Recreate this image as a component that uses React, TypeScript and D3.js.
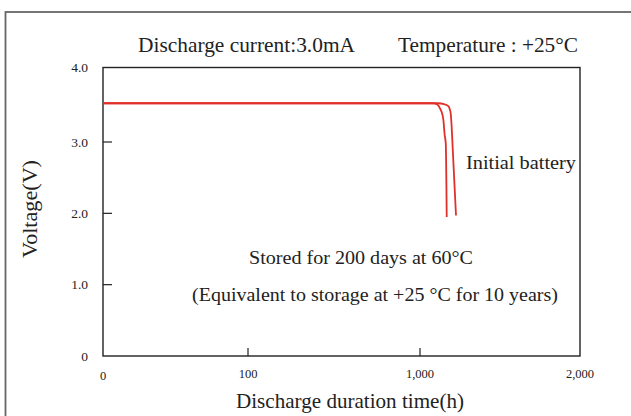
import React from "react";
import * as d3 from "d3";

const xTickValues = [0, 100, 1000, 2000];
const xTickLabels = ["0", "100", "1,000", "2,000"];
const yTickValues = [0, 1, 2, 3, 4];
const yTickLabels = ["0", "1.0", "2.0", "3.0", "4.0"];

const storedHours = [0, 500, 1000, 1060, 1083, 1110, 1125, 1140, 1146, 1154, 1161, 1167];
const storedVolts = [3.52, 3.52, 3.52, 3.52, 3.52, 3.5, 3.45, 3.37, 3.3, 3.1, 2.98, 1.95];
const initialHours = [0, 500, 1000, 1100, 1114, 1150, 1177, 1186, 1192, 1198, 1204, 1225];
const initialVolts = [3.52, 3.52, 3.52, 3.52, 3.52, 3.51, 3.48, 3.44, 3.38, 3.2, 2.93, 1.97];

const W = 631;
const H = 416;

export default function App() {
  const x = d3.scaleLinear().domain([0, 100, 1000, 2000]).range([103, 248, 420, 580]);
  const y = d3.scaleLinear().domain([0, 3, 4]).range([356, 142, 67.5]);
  const line = d3
    .line<[number, number]>()
    .x((d) => x(d[0]))
    .y((d) => y(d[1]))
    .curve(d3.curveMonotoneX);
  const stored = storedHours.map((h, i) => [h, storedVolts[i]] as [number, number]);
  const initial = initialHours.map((h, i) => [h, initialVolts[i]] as [number, number]);
  const font = "'Liberation Serif', 'Times New Roman', serif";
  const txt = "#222";
  return (
    <svg width={W} height={H} style={{ position: "absolute", left: 0, top: 0, background: "#fff" }} fontFamily={font}>
      <rect x={5.5} y={12} width={W + 10} height={H + 10} fill="none" stroke="#666" strokeWidth={1.8} />
      <text x={138} y={52} fontSize={21} textLength={217} lengthAdjust="spacingAndGlyphs" fill={txt}>Discharge current:3.0mA</text>
      <text x={398} y={52} fontSize={21} textLength={180} lengthAdjust="spacingAndGlyphs" fill={txt}>Temperature : +25°C</text>
      {/* plot frame */}
      <rect x={x(0)} y={y(4)} width={x(2000) - x(0)} height={y(0) - y(4)} fill="none" stroke="#222" strokeWidth={1.4} />
      {yTickValues.map((v, i) => (
        <g key={"y" + i}>
          {v > 0 && v < 4 && <line x1={x(0)} x2={x(0) + 9} y1={y(v)} y2={y(v)} stroke="#222" strokeWidth={1.2} />}
          <text x={88} y={y(v) + 4.5} fontSize={13.5} textAnchor="end" fill={txt}>{yTickLabels[i]}</text>
        </g>
      ))}
      {xTickValues.map((v, i) => (
        <g key={"x" + i}>
          {v > 0 && v < 2000 && <line x1={x(v)} x2={x(v)} y1={y(0)} y2={y(0) - 8} stroke="#222" strokeWidth={1.2} />}
          <text x={x(v)} y={i === 0 ? 379.5 : 377.5} fontSize={12.5} textAnchor="middle" fill={txt}>{xTickLabels[i]}</text>
        </g>
      ))}
      <path d={line(stored) || ""} fill="none" stroke="#e0302a" strokeWidth={1.8} />
      <path d={line(initial) || ""} fill="none" stroke="#e0302a" strokeWidth={1.8} />
      <text x={466} y={169} fontSize={19} textLength={110} lengthAdjust="spacingAndGlyphs" fill={txt}>Initial battery</text>
      <text x={249} y={264} fontSize={19} textLength={224} lengthAdjust="spacingAndGlyphs" fill={txt}>Stored for 200 days at 60°C</text>
      <text x={192} y={301} fontSize={19} textLength={366} lengthAdjust="spacingAndGlyphs" fill={txt}>(Equivalent to storage at +25 °C for 10 years)</text>
      <text x={236} y={408} fontSize={21} textLength={228} lengthAdjust="spacingAndGlyphs" fill={txt}>Discharge duration time(h)</text>
      <text transform="translate(37,209) rotate(-90)" x={-49} fontSize={20} textLength={98} lengthAdjust="spacingAndGlyphs" fill={txt}>Voltage(V)</text>
    </svg>
  );
}
